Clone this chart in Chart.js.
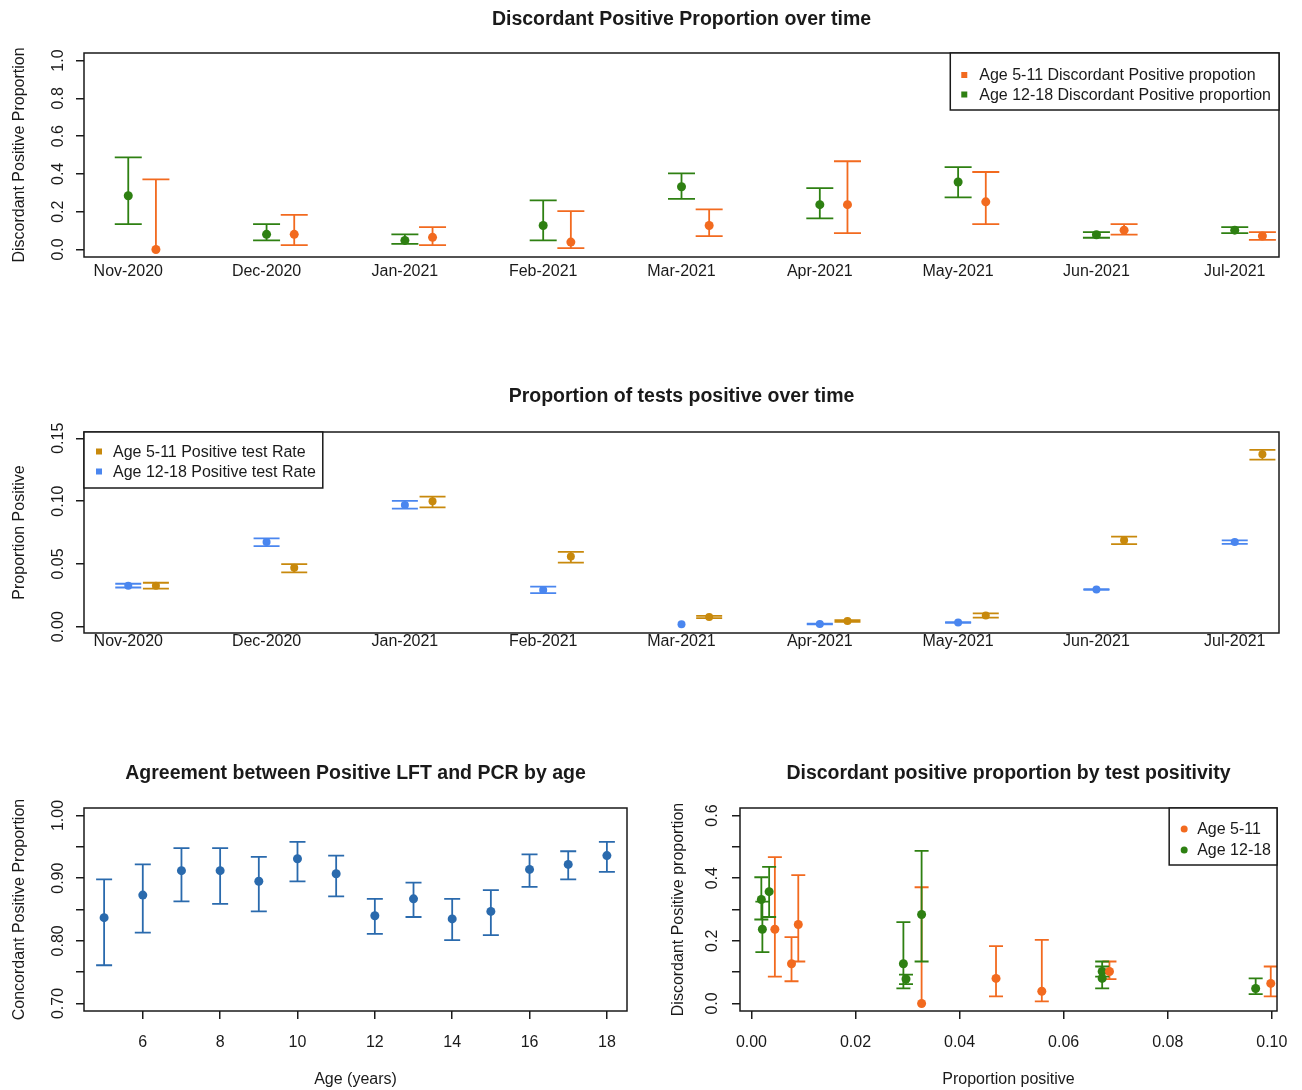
<!DOCTYPE html>
<html>
<head>
<meta charset="utf-8">
<script src="https://cdn.jsdelivr.net/npm/chart.js@4.4.1/dist/chart.umd.min.js"></script>
<style>
body { margin: 0; background: #fff; width: 1302px; height: 1090px; position: relative; overflow: hidden; }
canvas { position: absolute; }
</style>
</head>
<body>
<canvas id="c1" width="1302" height="300" style="left:0;top:0"></canvas>
<canvas id="c2" width="1302" height="320" style="left:0;top:340px"></canvas>
<canvas id="c3" width="660" height="350" style="left:0;top:740px"></canvas>
<canvas id="c4" width="642" height="350" style="left:660px;top:740px"></canvas>
<script>
var FONT = '"Liberation Sans", Arial, sans-serif';
var INK = '#1a1a1a';
var GREEN = '#2e8012', ORANGE = '#f26a1f', GOLD = '#c8890c', BLUE = '#4a86ef', STEEL = '#2a6aad';

// months on the time axis (category positions 1..9)
var months = ['Nov-2020', 'Dec-2020', 'Jan-2021', 'Feb-2021', 'Mar-2021', 'Apr-2021', 'May-2021', 'Jun-2021', 'Jul-2021'];
var monthPos = [1, 2, 3, 4, 5, 6, 7, 8, 9];
var shift511 = 0.2;

// discordant positive proportion
var disc511   = [0.000, 0.080, 0.064, 0.039, 0.127, 0.237, 0.252, 0.102, 0.071];
var disc511Lo = [0.000, 0.023, 0.023, 0.007, 0.071, 0.086, 0.134, 0.078, 0.051];
var disc511Hi = [0.371, 0.183, 0.118, 0.203, 0.212, 0.467, 0.410, 0.134, 0.092];
var disc1218   = [0.284, 0.080, 0.048, 0.127, 0.332, 0.237, 0.357, 0.078, 0.102];
var disc1218Lo = [0.134, 0.048, 0.030, 0.048, 0.268, 0.164, 0.276, 0.062, 0.086];
var disc1218Hi = [0.487, 0.134, 0.080, 0.260, 0.403, 0.325, 0.436, 0.092, 0.118];

// proportion of tests positive
var pos511   = [0.0327, 0.0470, 0.0998, 0.0558, 0.0077, 0.0045, 0.0090, 0.0688, 0.1373];
var pos511Lo = [0.0303, 0.0433, 0.0950, 0.0510, 0.0068, 0.0038, 0.0073, 0.0658, 0.1330];
var pos511Hi = [0.0350, 0.0499, 0.1035, 0.0595, 0.0086, 0.0052, 0.0107, 0.0717, 0.1407];
var pos1218   = [0.0327, 0.0674, 0.0969, 0.0292, 0.0019, 0.0021, 0.0034, 0.0297, 0.0674];
var pos1218Lo = [0.0312, 0.0642, 0.0940, 0.0268, 0.0019, 0.0018, 0.0031, 0.0294, 0.0660];
var pos1218Hi = [0.0342, 0.0704, 0.1001, 0.0319, 0.0019, 0.0024, 0.0037, 0.0300, 0.0688];

// concordant positive proportion by age
var ages    = [5, 6, 7, 8, 9, 10, 11, 12, 13, 14, 15, 16, 17, 18];
var conc    = [0.837, 0.873, 0.912, 0.912, 0.895, 0.931, 0.907, 0.840, 0.867, 0.835, 0.847, 0.914, 0.922, 0.936];
var concLo  = [0.761, 0.813, 0.863, 0.859, 0.847, 0.895, 0.871, 0.811, 0.838, 0.801, 0.809, 0.886, 0.898, 0.910];
var concHi  = [0.898, 0.922, 0.948, 0.948, 0.934, 0.958, 0.936, 0.867, 0.893, 0.867, 0.881, 0.938, 0.943, 0.958];

// tick values and labels
var yTicks1 = [0, 0.2, 0.4, 0.6, 0.8, 1.0];
var yLabels1 = ['0.0', '0.2', '0.4', '0.6', '0.8', '1.0'];
var yTicks2 = [0, 0.05, 0.10, 0.15];
var yLabels2 = ['0.00', '0.05', '0.10', '0.15'];
var yTicks3 = [0.70, 0.75, 0.80, 0.85, 0.90, 0.95, 1.00];
var yLabels3 = ['0.70', '', '0.80', '', '0.90', '', '1.00'];
var xTicks3 = [6, 8, 10, 12, 14, 16, 18];
var yTicks4 = [0, 0.1, 0.2, 0.3, 0.4, 0.5, 0.6];
var yLabels4 = ['0.0', '', '0.2', '', '0.4', '', '0.6'];
var xTicks4 = [0, 0.02, 0.04, 0.06, 0.08, 0.10];
var xLabels4 = ['0.00', '0.02', '0.04', '0.06', '0.08', '0.10'];

function pts(xs, ys, dx) {
    return ys.map(function(v, i) { return { x: xs[i] + (dx || 0), y: v }; });
}

function set(label, color, xs, ys, lo, hi, dx, r) {
    return {
        label: label, data: pts(xs, ys, dx), errLo: lo, errHi: hi,
        backgroundColor: color, borderColor: color, borderWidth: 0, pointRadius: r || 4.5
    };
}

function fixed(vals) {
    return function(scale) { scale.ticks = vals.map(function(v) { return { value: v }; }); };
}

// error bars: point -> hi and point -> lo, each capped, like R arrows(angle=90)
var errBars = {
    id: 'errBars',
    beforeDatasetsDraw: function(chart, args, o) {
        var ctx = chart.ctx, a = chart.chartArea, xs = chart.scales.x, ys = chart.scales.y;
        ctx.save();
        ctx.beginPath();
        ctx.rect(a.left, a.top, a.right - a.left, a.bottom - a.top);
        ctx.clip();
        ctx.lineWidth = o.lineWidth;
        chart.data.datasets.forEach(function(ds) {
            if (!ds.errLo) return;
            ctx.strokeStyle = ds.backgroundColor;
            ds.data.forEach(function(p, i) {
                var x = xs.getPixelForValue(p.x), y0 = ys.getPixelForValue(p.y);
                [ds.errLo[i], ds.errHi[i]].forEach(function(e) {
                    if (e === p.y) return;
                    var y = ys.getPixelForValue(e);
                    ctx.beginPath();
                    ctx.moveTo(x, y0); ctx.lineTo(x, y);
                    ctx.moveTo(x - o.cap, y); ctx.lineTo(x + o.cap, y);
                    ctx.stroke();
                });
            });
        });
        ctx.restore();
    }
};

// R-like frame, title, rotated y labels and boxed legend
var rstyle = {
    id: 'rstyle',
    afterDraw: function(chart, args, o) {
        var ctx = chart.ctx, a = chart.chartArea, ys = chart.scales.y;
        ctx.save();
        ctx.strokeStyle = INK;
        ctx.lineWidth = 1.5;
        ctx.strokeRect(a.left, a.top, a.right - a.left, a.bottom - a.top);

        ctx.fillStyle = INK;
        ctx.textAlign = 'center';
        ctx.textBaseline = 'middle';
        ctx.font = 'bold 19.5px ' + FONT;
        ctx.fillText(o.title, (a.left + a.right) / 2, a.top - o.titleGap);

        ctx.font = '16px ' + FONT;
        ys.ticks.forEach(function(t, i) {
            var lab = o.yLabels[i];
            if (!lab) return;
            ctx.save();
            ctx.translate(a.left - o.yLabelGap, ys.getPixelForValue(t.value));
            ctx.rotate(-Math.PI / 2);
            ctx.fillText(lab, 0, 0);
            ctx.restore();
        });

        if (o.legend) {
            var L = o.legend, dss = chart.data.datasets, w = 0;
            L.order.forEach(function(k) { w = Math.max(w, ctx.measureText(dss[k].label).width); });
            var bw = L.inset + w + L.pad, bx = L.right ? a.right - bw : a.left, by = a.top;
            ctx.fillStyle = '#fff';
            ctx.fillRect(bx, by, bw, L.height);
            ctx.strokeRect(bx, by, bw, L.height);
            ctx.textAlign = 'left';
            L.order.forEach(function(k, j) {
                var cy = by + L.first + j * L.step;
                ctx.fillStyle = dss[k].backgroundColor;
                if (L.dot) {
                    ctx.beginPath(); ctx.arc(bx + L.mx, cy - 1, 3.5, 0, 2 * Math.PI); ctx.fill();
                } else {
                    ctx.fillRect(bx + L.mx - 3, cy - 4, 6, 6);
                }
                ctx.fillStyle = INK;
                ctx.fillText(dss[k].label, bx + L.inset, cy);
            });
        }
        ctx.restore();
    }
};

Chart.register(errBars, rstyle);

function rChart(id, c) {
    return new Chart(document.getElementById(id), {
        type: 'scatter',
        data: { datasets: c.datasets },
        options: {
            responsive: false, animation: false, events: [],
            layout: { autoPadding: false, padding: c.padding },
            plugins: {
                legend: { display: false }, tooltip: { enabled: false }, title: { display: false },
                errBars: { cap: c.cap, lineWidth: c.lw },
                rstyle: { title: c.title, titleGap: c.titleGap, yLabels: c.yLabels, yLabelGap: c.yLabelGap, legend: c.legend || false }
            },
            scales: {
                x: {
                    type: 'linear', min: c.xMin, max: c.xMax,
                    afterBuildTicks: fixed(c.xTicks),
                    afterFit: function(s) { s.height = c.xH; },
                    border: { display: false },
                    grid: { display: !!c.xTickMarks, drawOnChartArea: false, tickLength: 8, color: INK, lineWidth: 1.5 },
                    ticks: { autoSkip: false, maxRotation: 0, minRotation: 0, padding: c.xPad, color: INK,
                             font: { family: FONT, size: 16 }, callback: c.xLabel },
                    title: { display: !!c.xTitle, text: c.xTitle, color: INK, font: { family: FONT, size: 16 }, padding: { top: 0, bottom: 0.4 } }
                },
                y: {
                    type: 'linear', min: c.yMin, max: c.yMax,
                    afterBuildTicks: fixed(c.yTicks),
                    afterFit: function(s) { s.width = c.yW; },
                    border: { display: false },
                    grid: { display: true, drawOnChartArea: false, tickLength: 8, color: INK, lineWidth: 1.5 },
                    ticks: { display: false },
                    title: { display: true, text: c.yTitle, color: INK, font: { family: FONT, size: 16 }, padding: { top: c.yTitlePad, bottom: 0 } }
                }
            }
        }
    });
}

function monthLabel(v) { return months[Math.round(v) - 1]; }

rChart('c1', {
    title: 'Discordant Positive Proportion over time', titleGap: 33,
    datasets: [
        set('Age 5-11 Discordant Positive propotion', ORANGE, monthPos, disc511, disc511Lo, disc511Hi, shift511),
        set('Age 12-18 Discordant Positive proportion', GREEN, monthPos, disc1218, disc1218Lo, disc1218Hi, 0)
    ],
    padding: { left: 0, right: 23, top: 53, bottom: 0 },
    xMin: 0.68, xMax: 9.32, xTicks: monthPos, xLabel: monthLabel, xH: 43, xPad: -2.6,
    yMin: -0.04, yMax: 1.04, yTicks: yTicks1, yLabels: yLabels1, yW: 84, yLabelGap: 25,
    yTitle: 'Discordant Positive Proportion', yTitlePad: 10.4,
    cap: 13.5, lw: 1.8,
    legend: { order: [0, 1], right: true, inset: 29, pad: 8, height: 57, first: 23, step: 19.5, mx: 14 }
});

rChart('c2', {
    title: 'Proportion of tests positive over time', titleGap: 35,
    datasets: [
        set('Age 5-11 Positive test Rate', GOLD, monthPos, pos511, pos511Lo, pos511Hi, shift511, 4),
        set('Age 12-18 Positive test Rate', BLUE, monthPos, pos1218, pos1218Lo, pos1218Hi, 0, 4)
    ],
    padding: { left: 0, right: 23, top: 92, bottom: 0 },
    xMin: 0.68, xMax: 9.32, xTicks: monthPos, xLabel: monthLabel, xH: 27, xPad: -8.6,
    yMin: -0.005, yMax: 0.155, yTicks: yTicks2, yLabels: yLabels2, yW: 84, yLabelGap: 25,
    yTitle: 'Proportion Positive', yTitlePad: 10.4,
    cap: 13, lw: 1.8,
    legend: { order: [0, 1], right: false, inset: 29, pad: 7, height: 56, first: 20.5, step: 20, mx: 15 }
});

rChart('c3', {
    title: 'Agreement between Positive LFT and PCR by age', titleGap: 34,
    datasets: [
        set('Concordant', STEEL, ages, conc, concLo, concHi, 0)
    ],
    padding: { left: 0, right: 33, top: 68, bottom: 0 },
    xMin: 4.48, xMax: 18.52, xTicks: xTicks3, xTickMarks: true, xH: 79, xPad: 14.4,
    xLabel: function(v) { return String(v); }, xTitle: 'Age (years)',
    yMin: 0.688, yMax: 1.012, yTicks: yTicks3, yLabels: yLabels3, yW: 84, yLabelGap: 25,
    yTitle: 'Concordant Positive Proportion', yTitlePad: 10.4,
    cap: 8, lw: 1.8
});

rChart('c4', {
    title: 'Discordant positive proportion by test positivity', titleGap: 34,
    datasets: [
        set('Age 5-11', ORANGE, pos511, disc511, disc511Lo, disc511Hi, 0),
        set('Age 12-18', GREEN, pos1218, disc1218, disc1218Lo, disc1218Hi, 0)
    ],
    padding: { left: 0, right: 23, top: 68, bottom: 0 },
    xMin: -0.0022, xMax: 0.101, xTicks: xTicks4, xTickMarks: true, xH: 79, xPad: 14.4,
    xLabel: function(v) { return xLabels4[xTicks4.indexOf(v)]; }, xTitle: 'Proportion positive',
    yMin: -0.024, yMax: 0.624, yTicks: yTicks4, yLabels: yLabels4, yW: 80, yLabelGap: 27,
    yTitle: 'Discordant Positive proportion', yTitlePad: 8.5,
    cap: 7, lw: 1.8,
    legend: { order: [0, 1], right: true, inset: 28, pad: 6, height: 57, first: 22, step: 21, mx: 15, dot: true }
});
</script>
</body>
</html>
